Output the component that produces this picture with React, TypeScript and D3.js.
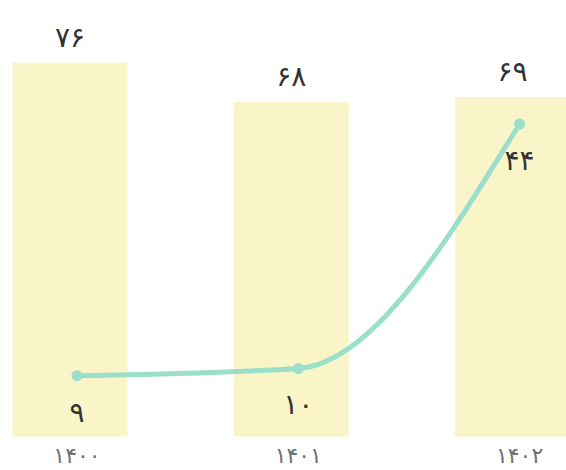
import React from "react";
import * as d3 from "d3";

// data
const years = [1400, 1401, 1402];
const barValues = [76, 68, 69];
const lineValues = [9, 10, 44];

const faDigits = "۰۱۲۳۴۵۶۷۸۹";
const toFa = (n: number) =>
  String(n).replace(/[0-9]/g, (d) => faDigits[+d]);

const width = 566;
const height = 470;

const App = () => {
  // category centres (line points + axis labels)
  const x = d3
    .scalePoint<number>()
    .domain(years)
    .range([77, 519.6]);

  const barWidth = 115;
  const barShift = -7; // bars sit a little left of the category centre

  const yBar = d3.scaleLinear().domain([0, 76]).range([436.5, 62.7]);
  const yLine = d3.scaleLinear().domain([0, 44]).range([440.4, 124]);

  const line = d3
    .line<number>()
    .x((d, i) => x(years[i])!)
    .y((d) => yLine(d))
    .curve(d3.curveMonotoneX);

  const font = "'DejaVu Sans', sans-serif";

  return (
    <svg
      width={width}
      height={height}
      style={{ position: "absolute", left: 0, top: 0 }}
    >
      {/* bars */}
      {barValues.map((v, i) => (
        <rect
          key={"b" + i}
          x={x(years[i])! + barShift - barWidth / 2}
          y={yBar(v)}
          width={barWidth}
          height={yBar(0) - yBar(v)}
          fill="#f9f5c9"
        />
      ))}
      {/* bar labels */}
      {barValues.map((v, i) => (
        <text
          key={"bl" + i}
          x={x(years[i])! + barShift}
          y={yBar(v) - 16}
          textAnchor="middle"
          fontSize={28}
          fontFamily={font}
          fill="#333"
        >
          {toFa(v)}
        </text>
      ))}

      {/* line */}
      <path
        d={line(lineValues) || ""}
        fill="none"
        stroke="#99dfc9"
        strokeWidth={5}
        strokeLinecap="round"
      />
      {lineValues.map((v, i) => (
        <circle
          key={"p" + i}
          cx={x(years[i])}
          cy={yLine(v)}
          r={5.5}
          fill="#99dfc9"
        />
      ))}
      {lineValues.map((v, i) => (
        <text
          key={"ll" + i}
          x={x(years[i])}
          y={yLine(v) + 46}
          textAnchor="middle"
          fontSize={28}
          fontFamily={font}
          fill="#333"
        >
          {toFa(v)}
        </text>
      ))}

      {/* x axis labels */}
      {years.map((yr) => (
        <text
          key={"x" + yr}
          x={x(yr)}
          y={463}
          textAnchor="middle"
          fontSize={22}
          fontFamily={font}
          fill="#6e7079"
        >
          {toFa(yr)}
        </text>
      ))}
    </svg>
  );
};

export default App;
